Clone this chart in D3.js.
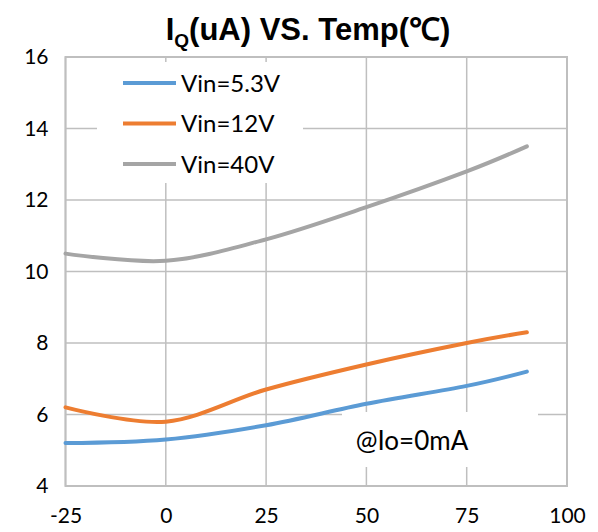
<!DOCTYPE html>
<html><head><meta charset="utf-8">
<script src="https://cdn.jsdelivr.net/npm/d3@7"></script>
<style>body{margin:0;background:#fff}svg{display:block}</style>
</head><body>
<svg id="c" width="598" height="532"></svg>
<script>
const temps = [-25, 0, 25, 50, 75, 90];
const vin53 = [5.2, 5.3, 5.7, 6.3, 6.8, 7.2];
const vin12 = [6.2, 5.8, 6.7, 7.4, 8.0, 8.3];
const vin40 = [10.5, 10.3, 10.9, 11.8, 12.8, 13.5];
const seriesNames = ["Vin=5.3V", "Vin=12V", "Vin=40V"];
const xTicks = [-25, 0, 25, 50, 75, 100];
const yTicks = [4, 6, 8, 10, 12, 14, 16];
const colors = ["#5b9bd5", "#ed7d31", "#a5a5a5"];
const series = [vin53, vin12, vin40];

const svg = d3.select("#c");
const L = 65.5, R = 567, T = 57, B = 486;
const x = d3.scaleLinear().domain([-25, 100]).range([L, R]);
const y = d3.scaleLinear().domain([4, 16]).range([B, T]);
const font = "Lato, 'Open Sans', sans-serif";
const grid = "#bfbfbf";

// gridlines
svg.append("g").selectAll("line.v").data(xTicks).join("line")
  .attr("x1", d => x(d)).attr("x2", d => x(d)).attr("y1", T).attr("y2", B)
  .attr("stroke", grid).attr("stroke-width", 1.5);
svg.append("g").selectAll("line.h").data(yTicks).join("line")
  .attr("x1", L).attr("x2", R).attr("y1", d => y(d)).attr("y2", d => y(d))
  .attr("stroke", grid).attr("stroke-width", 1.5);

// axes labels
const xa = d3.axisBottom(x).tickValues(xTicks).tickSize(0).tickPadding(22).tickFormat(d => String(d));
const gx = svg.append("g").attr("transform", `translate(0,${B})`).call(xa);
gx.select(".domain").remove();
gx.selectAll("text").attr("font-family", font).attr("font-size", 21).attr("fill", "#000");
const ya = d3.axisLeft(y).tickValues(yTicks).tickSize(0).tickPadding(17).tickFormat(d => String(d));
const gy = svg.append("g").attr("transform", `translate(${L},0)`).call(ya);
gy.select(".domain").remove();
gy.selectAll("text").attr("font-family", font).attr("font-size", 21).attr("fill", "#000");

// plot border
svg.append("rect").attr("x", L).attr("y", T).attr("width", R - L).attr("height", B - T)
  .attr("fill", "none").attr("stroke", grid).attr("stroke-width", 2);

// series
const line = d3.line().x((d, i) => x(temps[i])).y(d => y(d)).curve(d3.curveCardinal.tension(0));
svg.append("g").selectAll("path").data(series).join("path")
  .attr("d", d => line(d)).attr("fill", "none")
  .attr("stroke", (d, i) => colors[i]).attr("stroke-width", 4).attr("stroke-linecap", "round");

// legend
svg.append("rect").attr("x", 97).attr("y", 62).attr("width", 206).attr("height", 121).attr("fill", "#fff");
const lg = svg.append("g").selectAll("g").data(seriesNames).join("g")
  .attr("transform", (d, i) => `translate(0,${83 + i * 40.5})`);
lg.append("line").attr("x1", 123).attr("x2", 176).attr("y1", 0).attr("y2", 0)
  .attr("stroke", (d, i) => colors[i]).attr("stroke-width", 4);
lg.append("text").attr("x", 181).attr("y", 8.5).text(d => d)
  .attr("font-family", font).attr("font-size", 24).attr("fill", "#000");

// annotation
svg.append("rect").attr("x", 342).attr("y", 412).attr("width", 196).attr("height", 55).attr("fill", "#fff");
svg.append("text").attr("x", 412).attr("y", 450).attr("text-anchor", "middle")
  .attr("font-family", font).attr("font-size", 26).attr("fill", "#000").text("@Io=0mA");

// title
const t = svg.append("text").attr("x", 308).attr("y", 40).attr("text-anchor", "middle")
  .attr("font-family", "'Liberation Sans', Arial, sans-serif").attr("font-weight", "bold")
  .attr("font-size", 31).attr("fill", "#000");
t.append("tspan").text("I");
t.append("tspan").attr("font-size", 19).attr("dy", 7).text("Q");
t.append("tspan").attr("dy", -7).text("(uA) VS. Temp(℃)");
</script>
</body></html>
